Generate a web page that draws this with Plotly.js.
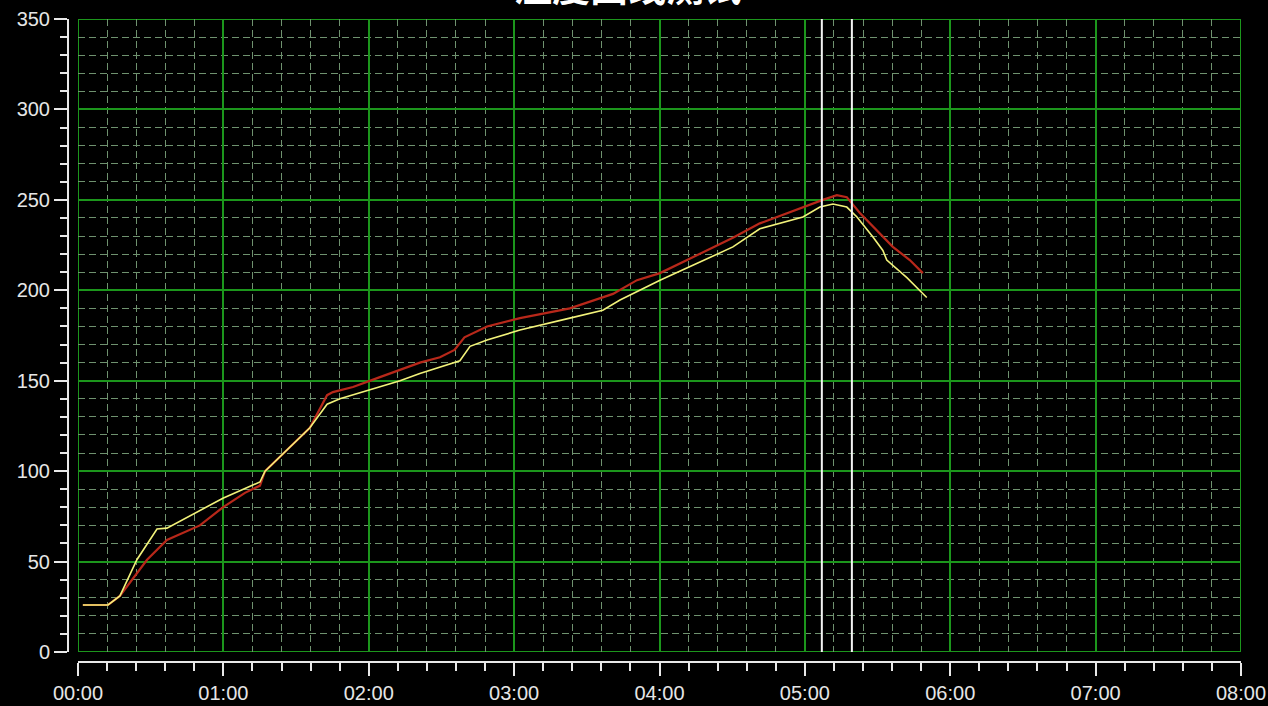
<!DOCTYPE html>
<html>
<head>
<meta charset="utf-8">
<script src="https://cdn.plot.ly/plotly-3.0.1.min.js"></script>
<style>
html,body{margin:0;padding:0;background:#000;}
#chart{width:1268px;height:706px;}
</style>
</head>
<body>
<div id="chart"></div>
<script>
// Time in minutes since 00:00
var redTime = [2, 12.4, 17.3, 28.5, 36.7, 50.3, 59.8, 68.9, 75.1, 77.2, 95.7, 102.8, 105.2, 113.5, 124.6, 132.9, 141.1, 149.4, 155.4, 159.5, 168.8, 182.4, 203, 220.8, 230.7, 240.2, 256.7, 270.3, 281.4, 299.2, 307.4, 313.2, 317.3, 322.7, 329.7, 336.3, 343.3, 348.7];
var redValues = [26, 26, 31, 51, 62, 70, 80, 88, 92, 100, 124, 142, 143.7, 146.5, 152, 156, 160, 163, 167, 174, 180, 184.6, 190, 198, 205.6, 209.5, 220, 229, 237, 246, 250, 252.6, 251.5, 242.7, 233, 224, 216.7, 209.5];

var yellowTime = [2, 12.4, 17.3, 24.3, 32.6, 36.7, 59.8, 75.1, 77.2, 95.7, 102.8, 108.1, 132.9, 141.1, 157.6, 161.8, 168.8, 182.4, 203, 216.6, 223.7, 240.2, 256.7, 270.3, 281.4, 299.2, 306.2, 311.6, 317.3, 321.5, 328.1, 332.2, 333.8, 342.1, 350.3];
var yellowValues = [26, 26, 31, 51, 68, 68.5, 85, 94, 100, 124, 137, 140, 150, 154, 161, 169, 172.5, 178, 184.6, 189, 194.6, 205.6, 215.6, 224, 234, 240.5, 246, 247.7, 246, 240.5, 229.4, 222, 216.7, 207, 196];

var cursorTimes = [307, 319.4];

var xTickVals = [0, 60, 120, 180, 240, 300, 360, 420, 480];
var xTickText = ['00:00', '01:00', '02:00', '03:00', '04:00', '05:00', '06:00', '07:00', '08:00'];
var yTickVals = [0, 50, 100, 150, 200, 250, 300, 350];
var titleText = '温度曲线测试';

// minor grid/tick positions (12-minute and 10-unit steps, skipping major positions)
function minorVals(max, step, major) {
  var out = [];
  for (var v = step; v < max; v += step) { if (v % major !== 0) out.push(v); }
  return out;
}
var xMinor = minorVals(480, 12, 60);
var yMinor = minorVals(350, 10, 50);

var traces = [
  {x: redTime, y: redValues, type: 'scatter', mode: 'lines',
   line: {color: '#b8281a', width: 2.2}, hoverinfo: 'skip'},
  {x: yellowTime, y: yellowValues, type: 'scatter', mode: 'lines',
   line: {color: '#f2f27a', width: 1.6}, hoverinfo: 'skip'}
];

var GREEN = '#1c961c';
var shapes = [
  {type: 'rect', xref: 'x', yref: 'y', x0: 0, x1: 480, y0: 0, y1: 350,
   line: {color: GREEN, width: 2}, layer: 'below'}
].concat(cursorTimes.map(function (t) {
  return {type: 'line', xref: 'x', yref: 'y', x0: t, x1: t, y0: 0, y1: 350,
          line: {color: '#f4f4f4', width: 2}, layer: 'above'};
}));

var W = 1173, H = 643;
var minorStyle = {ticks: 'outside', tickwidth: 2, tickcolor: '#e8e8e8', showgrid: true,
                  gridcolor: '#6f926f', gridwidth: 1, griddash: '7px,4px'};
var layout = {
  width: 1268, height: 706,
  paper_bgcolor: '#000', plot_bgcolor: '#000',
  margin: {l: 68, r: 27, t: 19, b: 44},
  showlegend: false,
  font: {family: 'Liberation Sans, Arial, sans-serif', color: '#e6e6e6', size: 20},
  xaxis: {
    domain: [10 / W, 1], anchor: 'free', position: 0,
    range: [0, 480], tickmode: 'array', tickvals: xTickVals, ticktext: xTickText,
    showline: true, linecolor: '#e8e8e8', linewidth: 2,
    ticks: 'outside', ticklen: 13, tickwidth: 2, tickcolor: '#e8e8e8',
    showgrid: true, gridcolor: GREEN, gridwidth: 2, zeroline: false,
    tickfont: {size: 20, color: '#e6e6e6'},
    minor: Object.assign({tickmode: 'array', tickvals: xMinor, ticklen: 8}, minorStyle)
  },
  yaxis: {
    domain: [10 / H, 1], anchor: 'free', position: 0,
    range: [0, 350], tickmode: 'array', tickvals: yTickVals,
    showline: true, linecolor: '#e8e8e8', linewidth: 2,
    ticks: 'outside', ticklen: 13, tickwidth: 2, tickcolor: '#e8e8e8',
    showgrid: true, gridcolor: GREEN, gridwidth: 2, zeroline: false,
    tickfont: {size: 20, color: '#e6e6e6'},
    minor: Object.assign({tickmode: 'array', tickvals: yMinor, ticklen: 7}, minorStyle)
  },
  shapes: shapes,
  annotations: [{
    text: '<b>' + titleText + '</b>', xref: 'paper', yref: 'paper',
    x: (628 - 68) / W, y: (662 - 14) / H, xanchor: 'center', yanchor: 'bottom',
    showarrow: false,
    font: {family: 'Noto Sans CJK SC, sans-serif', size: 38, color: '#ffffff'}
  }]
};

Plotly.newPlot('chart', traces, layout, {staticPlot: true});
</script>
</body>
</html>
